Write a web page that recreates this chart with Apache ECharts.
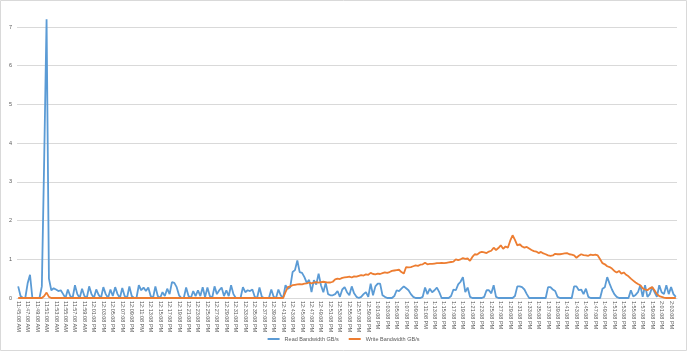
<!DOCTYPE html>
<html>
<head>
<meta charset="utf-8">
<script src="https://cdn.jsdelivr.net/npm/echarts@6/dist/echarts.min.js"></script>
<style>
  html, body { margin: 0; padding: 0; background: #fff; }
  #chart { width: 687px; height: 352px; }
</style>
</head>
<body>
<div id="chart"></div>
<script>
// sample times: one every 30 s, labels shown every 2 min
var startTime = [11, 45, 8];
var stepSeconds = 30;
var pointCount = 279;

var seriesNames = ['Read Bandwidth GB/s', 'Write Bandwidth GB/s'];

// Read Bandwidth GB/s
var readValues = [
  0.3,0.05,0,0,0.38,0.6,0,0,0,0,
  0.3,3.6,7.2,0.5,0.2,0.25,0.22,0.18,0.2,0.1,
  0,0.22,0.05,0,0.33,0.1,0,0.24,0.05,0,
  0.3,0.1,0,0.22,0.08,0,0.28,0.1,0,0.22,
  0.05,0.28,0.1,0,0.26,0.05,0,0.3,0.05,0,
  0,0.33,0.2,0.27,0.18,0.27,0.05,0,0.3,0.05,
  0,0.15,0.05,0.24,0.1,0.41,0.39,0.28,0.07,0,
  0,0.27,0.05,0,0.18,0.05,0.2,0.05,0.28,0.02,
  0.27,0.05,0,0.3,0.1,0.2,0.27,0.05,0.2,0.05,
  0.33,0.1,0,0,0,0.28,0.15,0.2,0.18,0.22,
  0.03,0,0.27,0.03,0,0,0,0.22,0.03,0,
  0.22,0.07,0,0.33,0.24,0.28,0.67,0.72,0.97,0.67,
  0.65,0.54,0.39,0.47,0.15,0.46,0.35,0.63,0.33,0.15,
  0.39,0.1,0.07,0.07,0.1,0.18,0.03,0.22,0.28,0.15,
  0.07,0.3,0.12,0.03,0,0.03,0.1,0.15,0.03,0.37,
  0.07,0.3,0.37,0.37,0.07,0.03,0,0,0,0.05,
  0.2,0.18,0.24,0.3,0.25,0.2,0.1,0.03,0,0,
  0,0.03,0.27,0.1,0.24,0.15,0.2,0.27,0.15,0,
  0,0,0,0.05,0.22,0.2,0.35,0.42,0.54,0.15,
  0.27,0.03,0,0,0,0,0,0.03,0.2,0.2,
  0.12,0.33,0.03,0,0,0,0,0,0,0,
  0.05,0.3,0.3,0.28,0.22,0.1,0,0,0,0,
  0,0,0,0,0.28,0.28,0.22,0.18,0.03,0,
  0,0,0,0,0,0.3,0.3,0.2,0.22,0.1,
  0.24,0.03,0,0,0,0,0,0.24,0.28,0.54,
  0.37,0.22,0.1,0.03,0,0,0,0,0,0.2,
  0.04,0.08,0.15,0.33,0.03,0.33,0.03,0.1,0.28,0.15,
  0.03,0.33,0.15,0.1,0.33,0.1,0.28,0.1,0.03
];

// Write Bandwidth GB/s
var writeValues = [
  0,0,0,0,0,0,0,0,0,0,
  0,0.05,0.14,0.03,0,0,0,0,0,0,
  0,0,0,0,0,0,0,0,0,0,
  0,0,0,0,0,0,0,0,0,0,
  0,0,0,0,0,0,0,0,0,0,
  0,0,0,0,0,0,0,0,0,0,
  0,0,0,0,0,0,0,0,0,0,
  0,0,0,0,0,0,0,0,0,0,
  0,0,0,0,0,0,0,0,0,0,
  0,0,0,0,0,0,0,0,0,0,
  0,0,0,0,0,0,0,0,0,0,
  0,0,0,0.15,0.28,0.3,0.33,0.34,0.35,0.36,
  0.35,0.37,0.38,0.4,0.38,0.4,0.41,0.4,0.41,0.42,
  0.41,0.4,0.4,0.42,0.48,0.5,0.49,0.52,0.53,0.54,
  0.55,0.53,0.56,0.55,0.57,0.59,0.58,0.61,0.6,0.65,
  0.62,0.61,0.63,0.62,0.64,0.66,0.65,0.67,0.7,0.71,
  0.72,0.73,0.67,0.63,0.8,0.79,0.8,0.82,0.84,0.83,
  0.86,0.87,0.91,0.87,0.88,0.88,0.89,0.9,0.9,0.91,
  0.9,0.91,0.92,0.93,0.94,1.0,0.98,1.0,1.03,1.01,
  1.02,0.96,1.06,1.13,1.12,1.17,1.19,1.18,1.16,1.2,
  1.22,1.3,1.24,1.29,1.36,1.27,1.33,1.3,1.48,1.62,
  1.5,1.36,1.39,1.33,1.3,1.32,1.28,1.24,1.21,1.2,
  1.16,1.19,1.15,1.13,1.1,1.09,1.1,1.14,1.13,1.13,
  1.14,1.15,1.16,1.13,1.12,1.1,1.04,1.09,1.13,1.11,
  1.1,1.09,1.12,1.11,1.12,1.1,1.0,0.9,0.87,0.82,
  0.8,0.76,0.7,0.66,0.7,0.63,0.66,0.6,0.56,0.5,
  0.45,0.4,0.36,0.33,0.25,0.22,0.2,0.25,0.28,0.2,
  0.1,0.05,0.03,0.01,0,0,0,0,0
];

var yTicks = [0, 1, 2, 3, 4, 5, 6, 7];

// build the time categories
function pad(n) { return n < 10 ? '0' + n : '' + n; }
var categories = [];
var t0 = startTime[0] * 3600 + startTime[1] * 60 + startTime[2];
for (var i = 0; i < pointCount; i++) {
  var s = t0 + i * stepSeconds;
  var h = Math.floor(s / 3600), m = Math.floor(s % 3600 / 60), sec = s % 60;
  var ampm = h >= 12 ? 'PM' : 'AM';
  var h12 = h % 12 === 0 ? 12 : h % 12;
  categories.push(h12 + ':' + pad(m) + ':' + pad(sec) + ' ' + ampm);
}

var chart = echarts.init(document.getElementById('chart'));

var option = {
  animation: false,
  textStyle: { fontFamily: 'Liberation Sans' },
  graphic: [{
    type: 'rect',
    shape: { x: 0.5, y: 0.5, width: 686, height: 350 },
    style: { fill: 'none', stroke: '#d9d9d9', lineWidth: 1 },
    silent: true
  }],
  grid: { left: 17, right: 10, top: 27, bottom: 54 },
  legend: {
    bottom: 5,
    left: 'center',
    icon: 'rect',
    itemWidth: 12,
    itemHeight: 2,
    itemGap: 10,
    textStyle: { fontSize: 5.5, color: '#595959' },
    data: seriesNames
  },
  xAxis: {
    type: 'category',
    data: categories,
    boundaryGap: true,
    axisTick: { show: false },
    axisLine: { lineStyle: { color: '#d9d9d9' } },
    axisLabel: {
      interval: 3,
      rotate: -90,
      fontSize: 5.5,
      color: '#595959',
      margin: 3
    }
  },
  yAxis: {
    type: 'value',
    min: yTicks[0],
    max: yTicks[yTicks.length - 1],
    interval: 1,
    axisLine: { show: false },
    axisTick: { show: false },
    splitLine: { lineStyle: { color: '#d9d9d9' } },
    axisLabel: { fontSize: 5.5, color: '#595959', margin: 5 }
  },
  series: [
    {
      name: seriesNames[0],
      type: 'line',
      data: readValues,
      showSymbol: false,
      clip: false,
      color: '#5b9bd5',
      lineStyle: { width: 1.8, color: '#5b9bd5' }
    },
    {
      name: seriesNames[1],
      type: 'line',
      data: writeValues,
      showSymbol: false,
      clip: false,
      color: '#ed7d31',
      lineStyle: { width: 1.8, color: '#ed7d31' }
    }
  ]
};

chart.setOption(option);
</script>
</body>
</html>
